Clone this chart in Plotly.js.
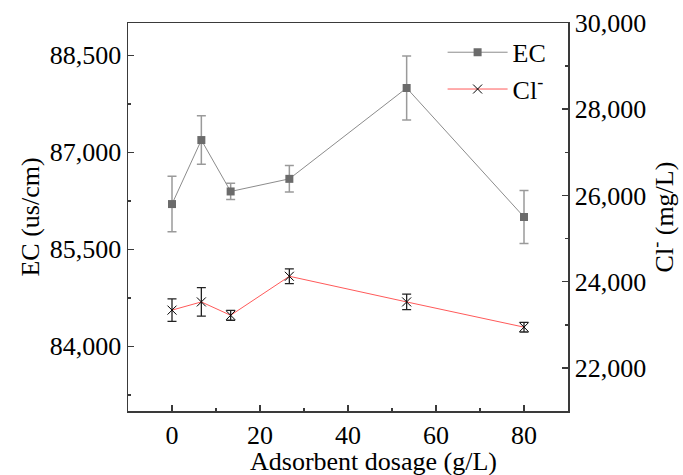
<!DOCTYPE html>
<html>
<head>
<meta charset="utf-8">
<script src="https://cdn.plot.ly/plotly-3.0.1.min.js"></script>
<style>html,body{margin:0;padding:0;background:#fff;}#chart{width:683px;height:475px;}</style>
</head>
<body>
<div id="chart"></div>
<script>
// Data
var dosage = [0, 6.67, 13.33, 26.67, 53.33, 80];
var ecValues = [86200, 87190, 86395, 86590, 87995, 86000];
var ecErrors = [430, 375, 125, 205, 495, 410];
var clValues = [23340, 23530, 23220, 24125, 23530, 22945];
var clErrors = [260, 330, 115, 170, 180, 112];
var ecName = 'EC';
var clName = 'Cl<sup>-</sup>';
var xTitle = 'Adsorbent dosage (g/L)';
var yTitle = 'EC (us/cm)';
var y2Title = 'Cl<sup>-</sup> (mg/L)';

var FONT = 'Liberation Serif, Times New Roman, serif';
var FS = 26;
var AX = '#3a3a3a';

var traces = [
  {
    x: dosage, y: ecValues, name: ecName, type: 'scatter', mode: 'lines+markers',
    yaxis: 'y',
    line: {color: '#8c8c8c', width: 1},
    marker: {symbol: 'square', size: 8, color: '#6b6b6b'},
    error_y: {type: 'data', array: ecErrors, visible: true, color: '#9a9a9a', thickness: 1.5, width: 4.5}
  },
  {
    x: dosage, y: clValues, name: clName, type: 'scatter', mode: 'lines+markers',
    yaxis: 'y2',
    line: {color: '#ff5a5a', width: 1},
    marker: {symbol: 'x-thin-open', size: 9, color: '#000', line: {color: '#000', width: 1}},
    error_y: {type: 'data', array: clErrors, visible: true, color: '#222', thickness: 1.3, width: 4.5}
  }
];

var layout = {
  width: 683, height: 475,
  margin: {l: 128, r: 115, t: 23, b: 64},
  paper_bgcolor: '#fff', plot_bgcolor: '#fff',
  separators: '.,',
  font: {family: FONT, size: FS, color: '#000'},
  showlegend: true,
  legend: {
    x: 0.715, y: 0.985, xanchor: 'left', yanchor: 'top',
    bgcolor: 'rgba(0,0,0,0)', font: {family: FONT, size: FS, color: '#000'},
    itemwidth: 60, tracegroupgap: 0
  },
  annotations: [
    {text: xTitle, xref: 'paper', yref: 'paper', x: 0.557, y: -0.13,
     xanchor: 'center', yanchor: 'middle', showarrow: false,
     font: {family: FONT, size: FS, color: '#000'}}
  ],
  xaxis: {
    range: [-10, 90], dtick: 20, tick0: 0,
    showline: true, linecolor: AX, linewidth: 1.5, mirror: true,
    ticks: 'inside', ticklen: 6, tickwidth: 1.5, tickcolor: AX,
    minor: {dtick: 10, ticks: 'inside', ticklen: 3, tickwidth: 1.5, tickcolor: AX},
    showgrid: false, zeroline: false,
    tickfont: {family: FONT, size: FS}
  },
  yaxis: {
    range: [83000, 89000], tick0: 84000, dtick: 1500, tickformat: ',d',
    showline: true, linecolor: AX, linewidth: 1.5,
    ticks: 'inside', ticklen: 6, tickwidth: 1.5, tickcolor: AX,
    minor: {dtick: 750, ticks: 'inside', ticklen: 3, tickwidth: 1.5, tickcolor: AX},
    showgrid: false, zeroline: false,
    tickfont: {family: FONT, size: FS},
    title: {text: yTitle, font: {family: FONT, size: FS}, standoff: 2}
  },
  yaxis2: {
    range: [21000, 30000], tick0: 22000, dtick: 2000, tickformat: ',d',
    overlaying: 'y', side: 'right',
    showline: true, linecolor: AX, linewidth: 1.5,
    ticks: 'inside', ticklen: 6, tickwidth: 1.5, tickcolor: AX,
    minor: {dtick: 1000, ticks: 'inside', ticklen: 3, tickwidth: 1.5, tickcolor: AX},
    showgrid: false, zeroline: false,
    tickfont: {family: FONT, size: FS},
    title: {text: y2Title, font: {family: FONT, size: FS}, standoff: 2}
  }
};

Plotly.newPlot('chart', traces, layout, {displayModeBar: false, staticPlot: true});
</script>
</body>
</html>
